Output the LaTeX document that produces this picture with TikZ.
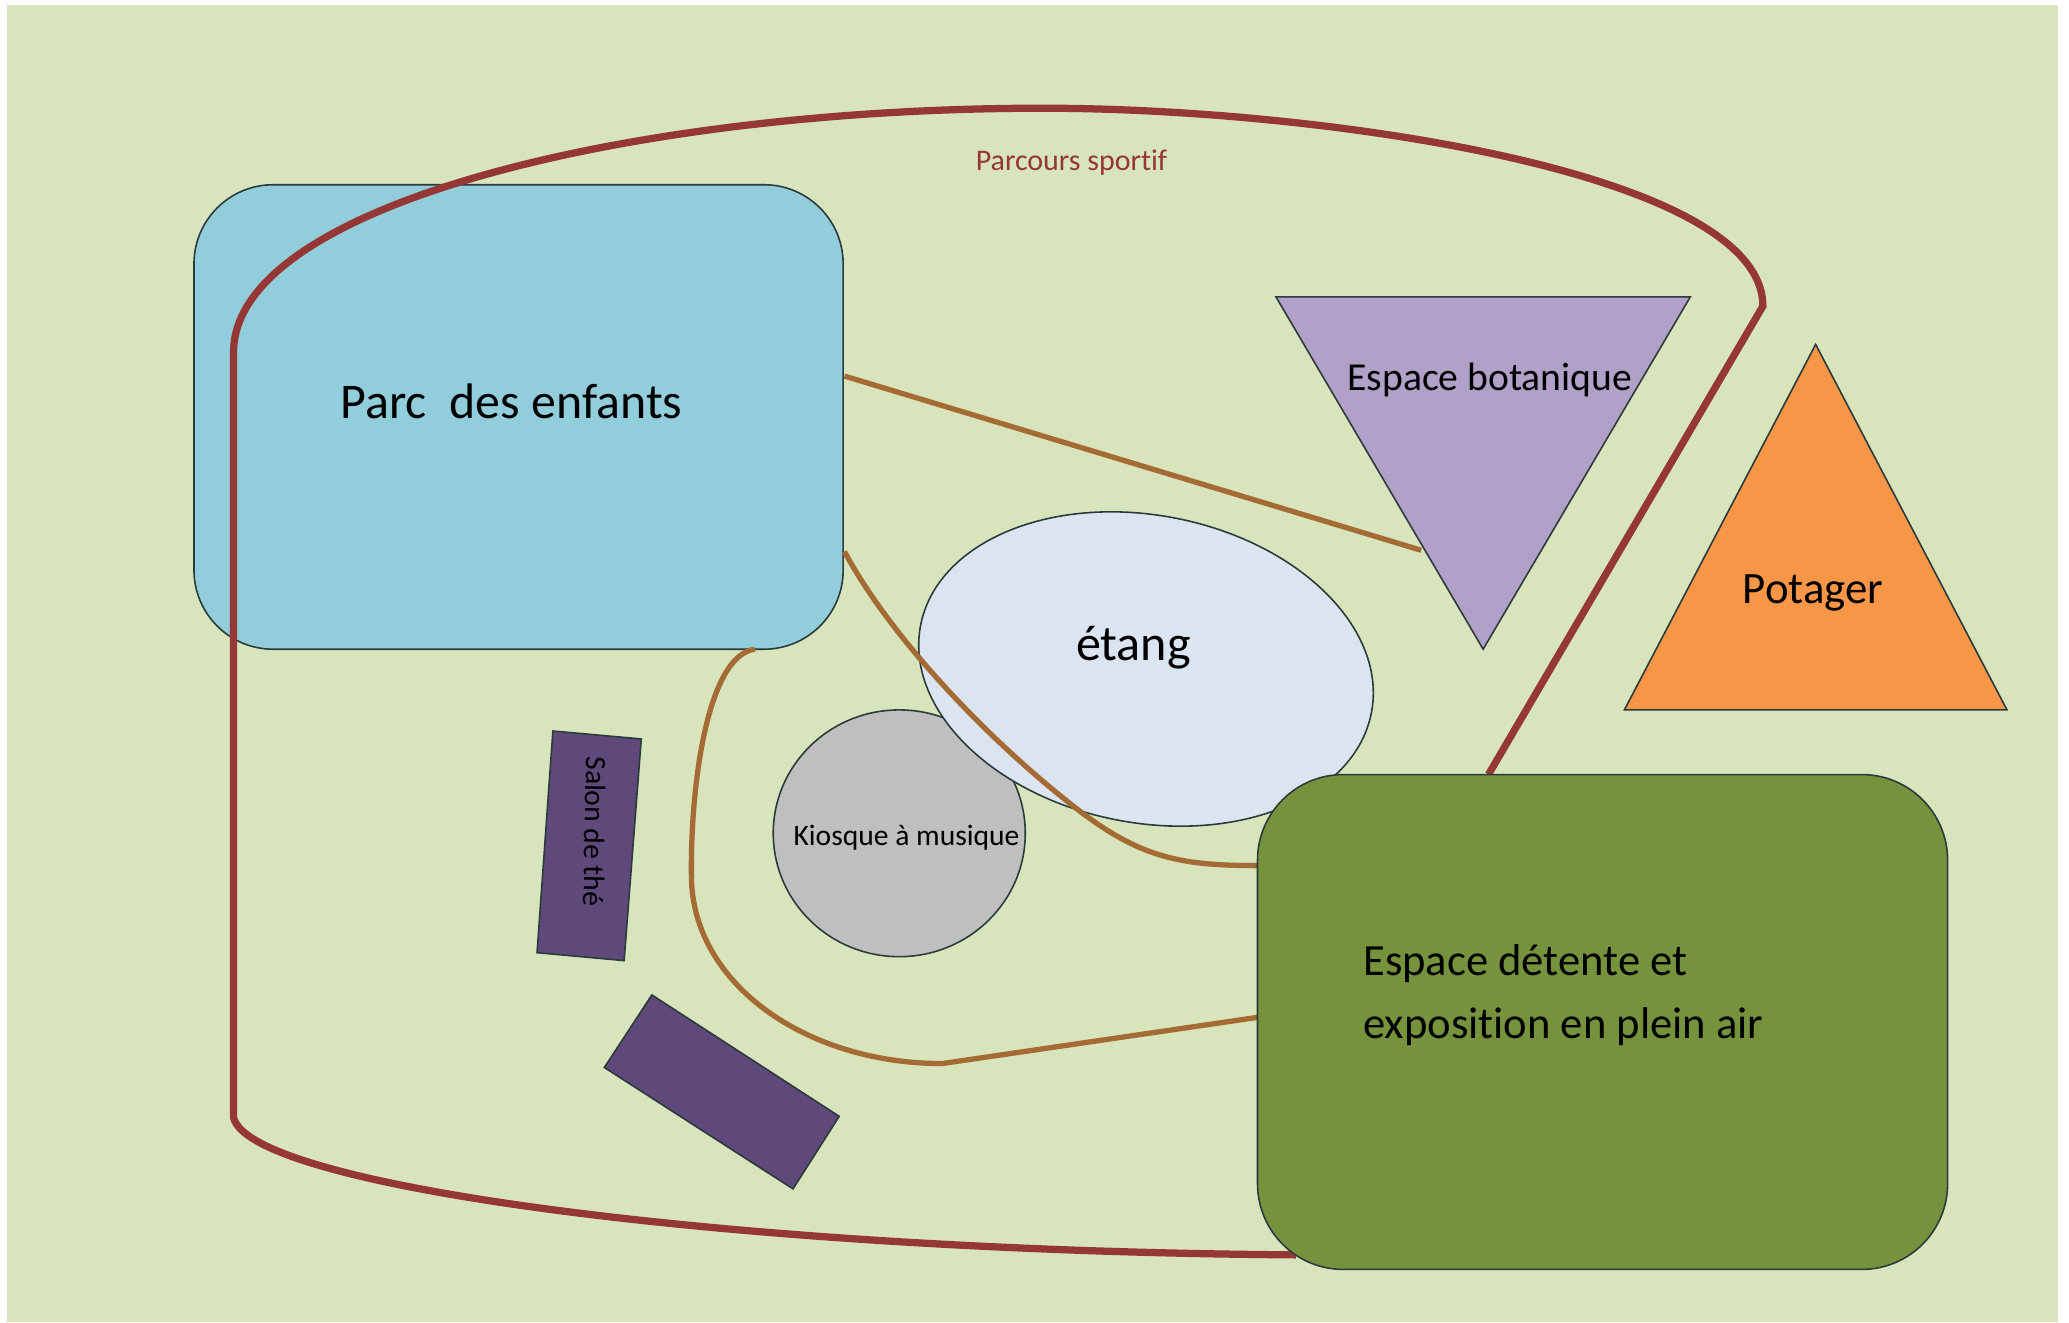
\documentclass[tikz,border=0pt]{standalone}
\usepackage{fontspec}
\setmainfont[Ligatures=NoCommon]{Carlito}
\usetikzlibrary{positioning}
\usetikzlibrary{shapes.geometric}
\definecolor{fond}{HTML}{D8E4BC}
\definecolor{bleu}{HTML}{92CDDC}
\definecolor{vert}{HTML}{76923C}
\definecolor{eau}{HTML}{DBE5F1}
\definecolor{gris}{HTML}{BFBFBF}
\definecolor{violet}{HTML}{5F497A}
\definecolor{lilas}{HTML}{B1A0C7}
\definecolor{potiron}{HTML}{F79646}
\definecolor{sport}{HTML}{953735}
\definecolor{terre}{HTML}{A46B34}
\definecolor{trait}{HTML}{2B3A3A}
\tikzset{
  zone/.style = {draw = trait, line width = 1.2pt, inner sep = 0pt},
  bloc/.style = {zone, rectangle, rounded corners = 60pt},
  parcours/.style = {sport, line width = 5.5pt},
  allee/.style = {terre, line width = 4pt},
}
\newcommand{\taille}[1]{\fontsize{#1}{#1}\selectfont}

\begin{document}
\begin{tikzpicture}[
    x = 1pt, y = -1pt,
  ]
  \useasboundingbox (0,0) rectangle (1568,1002);
  \fill[fond] (5.5,3.5) rectangle (1560,1002);

  \node[
      bloc, fill = bleu,
      minimum width = 492pt, minimum height = 352pt,
  ] (parc) at (393,316) {};
  \node[right, inner sep = 0pt] (parclabel) at (258,304) {\taille{37.8}Parc\ \ des enfants};

  \filldraw[zone, fill = lilas]
    (967,225) -- (1281,225) -- (1124,492) -- cycle;
  \node (botalabel) at (1129,288) {\taille{30}Espace botanique};

  \filldraw[zone, fill = potiron]
    (1376,261) -- (1521,538) -- (1231,538) -- cycle;
  \node (potagerlabel) at (1374,449) {\taille{34}Potager};

  \node[
      zone, ellipse, fill = gris,
      minimum width = 191pt, minimum height = 187pt,
  ] (kiosque) at (681.5,631.5) {};

  \node[
      zone, ellipse, fill = eau, rotate = -11,
      minimum width = 348pt, minimum height = 233pt,
  ] (etang) at (868.5,507) {};
  \node (etanglabel) at (859,491) {\taille{38}étang};
  \node (kiosquelabel) at (687,635) {\taille{22.4}Kiosque à musique};

  \filldraw[zone, fill = violet]
    (419,554) -- (486,560) -- (473,728) -- (407,722) -- cycle;
  \node[rotate = -91] (salonlabel) at (451,630) {\taille{22.4}Salon de thé};
  \filldraw[zone, fill = violet]
    (494,754) -- (636,846) -- (601,901) -- (458,809) -- cycle;

  % parcours autour du parc
  \coordinate (sportA) at (1128,587);
  \coordinate (sportB) at (1336,232);
  \coordinate (sportC) at (790,82);
  \coordinate (sportE) at (177,267);
  \coordinate (sportF) at (177,847);
  \coordinate (sportG) at (982,951);
  \draw[parcours] (sportA) -- (sportB)
    .. controls (1336,130) and (1000,82) .. (sportC)
    .. controls (480,82) and (177,155) .. (sportE)
    -- (sportF)
    .. controls (190,900) and (560,948) .. (sportG);
  \node[sport] (sportlabel) at (812,123) {\taille{22.7}Parcours sportif};

  % allees
  \coordinate (parcE) at (640,285);
  \coordinate (botaO) at (1077,417);
  \coordinate (parcS) at (640,418);
  \coordinate (etangS) at (806,605);
  \coordinate (parcB) at (572,492);
  \coordinate (coude) at (714,806);
  \coordinate (detenteA) at (953,656);
  \coordinate (detenteB) at (953,771);
  \draw[allee] (parcE) -- (botaO);
  \draw[allee] (parcS) .. controls (672,478) and (740,552) .. (etangS)
    .. controls (860,649) and (890,656) .. (detenteA);
  \draw[allee] (parcB) .. controls (535,497) and (523,600) .. (524,665)
    .. controls (525,745) and (610,806) .. (coude) -- (detenteB);

  \node[
      bloc, fill = vert, rounded corners = 65pt,
      minimum width = 523pt, minimum height = 375pt,
  ] (detente) at (1214.5,774.5) {};
  \node[
      right, align = left, inner sep = 0pt,
      font = \fontsize{33.8}{48}\selectfont,
  ] (detentelabel) at (1033,754) {Espace détente et\\exposition en plein air};
\end{tikzpicture}
\end{document}
